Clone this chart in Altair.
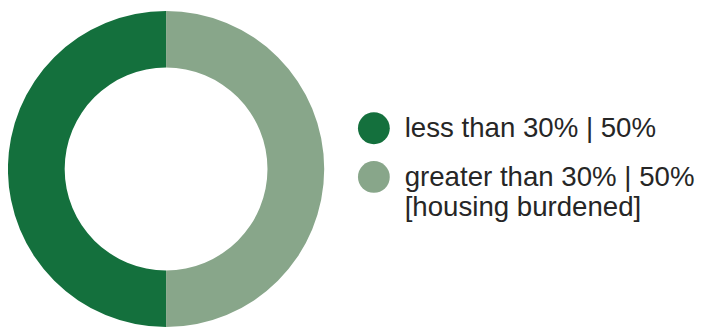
import altair as alt
import pandas as pd

categories = ["less than 30%", "greater than 30%"]
shares = [50, 50]
notes = ["", "[housing burdened]"]
colors = ["#14703D", "#88A68A"]

labels = [
    f"{c} | {s}%" + (f"\n{n}" if n else "")
    for c, s, n in zip(categories, shares, notes)
]
df = pd.DataFrame({"category": categories, "share": shares, "label": labels})

color_scale = alt.Scale(domain=categories, range=colors)

donut = (
    alt.Chart(df)
    .mark_arc(radius=159, radius2=102, stroke=None)
    .encode(
        theta=alt.Theta("share:Q", stack=True),
        color=alt.Color("category:N", scale=color_scale, legend=None),
        order=alt.Order("category:N", sort="ascending"),
    )
    .properties(width=318, height=322)
)

y_enc = alt.Y("category:N", sort=categories, axis=None,
              scale=alt.Scale(type="point", range=[120, 169], padding=0))

dots = (
    alt.Chart(df)
    .mark_circle(size=1024, opacity=1)
    .encode(
        x=alt.value(32),
        y=y_enc,
        color=alt.Color("category:N", scale=color_scale, legend=None),
    )
)

texts = (
    alt.Chart(df)
    .mark_text(
        align="left",
        baseline="alphabetic",
        dx=31,
        dy=9,
        fontSize=27.8,
        font="Liberation Sans",
        color="#262626",
        lineBreak="\n",
        lineHeight=30,
    )
    .encode(x=alt.value(32), y=y_enc, text="label:N")
)

legend_panel = (dots + texts).properties(width=320, height=322)

chart = (
    alt.hconcat(donut, legend_panel, spacing=18)
    .properties(padding=0)
    .configure_view(stroke=None)
)

chart.save("out.html", embed_options={"renderer": "svg", "actions": False})
